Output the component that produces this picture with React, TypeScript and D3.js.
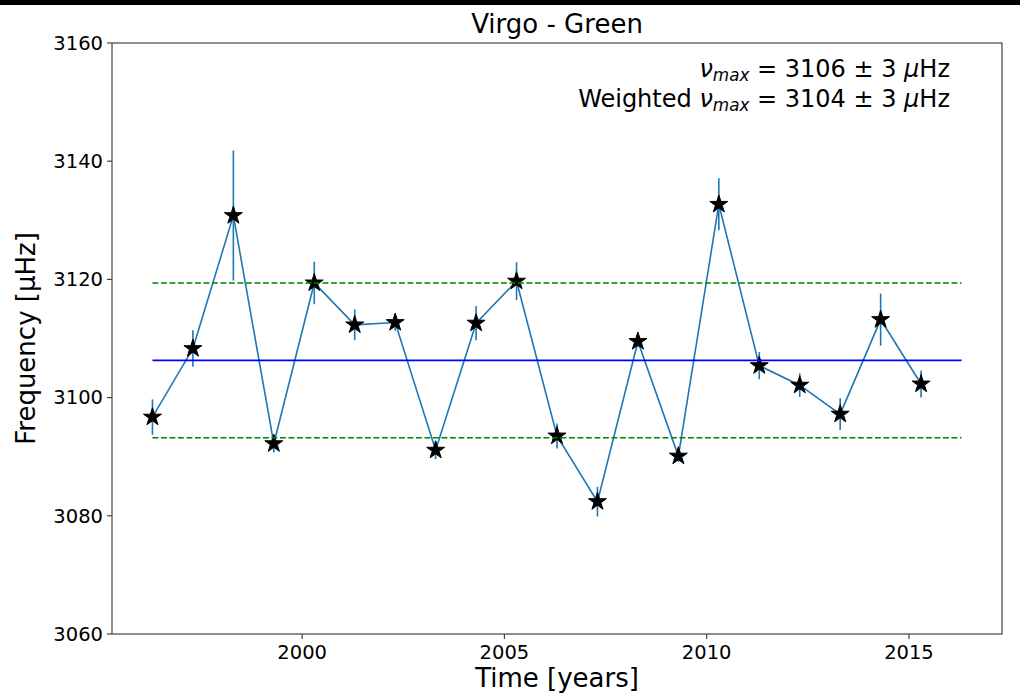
import React from "react";
import * as d3 from "d3";

const years = [1996.3, 1997.3, 1998.3, 1999.3, 2000.3, 2001.3, 2002.3, 2003.3, 2004.3, 2005.3, 2006.3, 2007.3, 2008.3, 2009.3, 2010.3, 2011.3, 2012.3, 2013.3, 2014.3, 2015.3];
const numax = [3096.7, 3108.3, 3130.8, 3092.2, 3119.4, 3112.3, 3112.7, 3091.1, 3112.6, 3119.7, 3093.5, 3082.4, 3109.5, 3090.1, 3132.7, 3105.4, 3102.1, 3097.2, 3113.2, 3102.3];
const numaxErr = [3.0, 3.1, 11.0, 1.5, 3.6, 2.6, 1.4, 1.5, 2.9, 3.2, 2.1, 2.5, 1.0, 1.0, 4.4, 2.3, 2.0, 2.7, 4.4, 2.3];
const meanValue = 3106.3;
const stdValue = 13.1;
const lineStart = 1996.3;
const lineEnd = 2016.3;
const xDomain = [1995.3, 2017.3];
const yDomain = [3060, 3160];
const xTicks = [2000, 2005, 2010, 2015];
const yTicks = [3060, 3080, 3100, 3120, 3140, 3160];

const W = 1020, H = 698;
const L = 112, R = 1002, T = 43, B = 634;
const FONT = "'DejaVu Sans', sans-serif";

export default function App() {
  const x = d3.scaleLinear().domain(xDomain).range([L, R]);
  const y = d3.scaleLinear().domain(yDomain).range([B, T]);
  const line = d3.line<number>().x((_, i) => x(years[i])).y((d) => y(d));
  const star = d3.symbol().type(d3.symbolStar).size(100)();
  const blue = "#1f77b4";

  return (
    <svg width={W} height={H} style={{ position: "absolute", left: 0, top: 0, background: "#fff" }} fontFamily={FONT}>
      <rect x={0} y={0} width={W} height={H} fill="#fff" />
      <rect x={0} y={0} width={W} height={5} fill="#000" />
      {/* error bars */}
      {numax.map((v, i) => (
        <line key={"e" + i} x1={x(years[i])} x2={x(years[i])} y1={y(v - numaxErr[i])} y2={y(v + numaxErr[i])} stroke={blue} strokeWidth={1.6} />
      ))}
      <path d={line(numax) || ""} fill="none" stroke={blue} strokeWidth={1.6} />
      {numax.map((v, i) => (
        <path key={"s" + i} d={star || ""} transform={`translate(${x(years[i])},${y(v)})`} fill="#000" stroke="#000" strokeWidth={1} />
      ))}
      {/* mean & std lines */}
      <line x1={x(lineStart)} x2={x(lineEnd)} y1={y(meanValue)} y2={y(meanValue)} stroke="#0000ff" strokeWidth={1.6} />
      <line x1={x(lineStart)} x2={x(lineEnd)} y1={y(meanValue + stdValue)} y2={y(meanValue + stdValue)} stroke="#008000" strokeWidth={1.6} strokeDasharray="5.9,2.6" />
      <line x1={x(lineStart)} x2={x(lineEnd)} y1={y(meanValue - stdValue)} y2={y(meanValue - stdValue)} stroke="#008000" strokeWidth={1.6} strokeDasharray="5.9,2.6" />
      {/* frame */}
      <rect x={L} y={T} width={R - L} height={B - T} fill="none" stroke="#444" strokeWidth={1.2} />
      {/* y ticks */}
      {yTicks.map((t) => (
        <g key={"y" + t}>
          <line x1={L - 5} x2={L} y1={y(t)} y2={y(t)} stroke="#444" strokeWidth={1.2} />
          <text x={L - 9} y={y(t)} dy="0.35em" textAnchor="end" fontSize={19.5} fill="#000">{t}</text>
        </g>
      ))}
      {/* x ticks */}
      {xTicks.map((t) => (
        <g key={"x" + t}>
          <line x1={x(t)} x2={x(t)} y1={B} y2={B + 5} stroke="#444" strokeWidth={1.2} />
          <text x={x(t)} y={B + 25} textAnchor="middle" fontSize={19.5} fill="#000">{t}</text>
        </g>
      ))}
      <text x={(L + R) / 2} y={33} textAnchor="middle" fontSize={26} fill="#000">Virgo - Green</text>
      <text x={(L + R) / 2} y={687} textAnchor="middle" fontSize={26} fill="#000">Time [years]</text>
      <text transform={`translate(35,${(T + B) / 2}) rotate(-90)`} textAnchor="middle" fontSize={26} fill="#000">Frequency [μHz]</text>
      <text x={950} y={77} textAnchor="end" fontSize={24} fill="#000">
        <tspan fontStyle="italic">ν</tspan>
        <tspan fontStyle="italic" fontSize={16.8} dy={4}>max</tspan>
        <tspan dy={-4}> = 3106 ± 3 </tspan>
        <tspan fontStyle="italic">μ</tspan>
        <tspan>Hz</tspan>
      </text>
      <text x={950} y={107} textAnchor="end" fontSize={24} fill="#000">
        <tspan>Weighted </tspan>
        <tspan fontStyle="italic">ν</tspan>
        <tspan fontStyle="italic" fontSize={16.8} dy={4}>max</tspan>
        <tspan dy={-4}> = 3104 ± 3 </tspan>
        <tspan fontStyle="italic">μ</tspan>
        <tspan>Hz</tspan>
      </text>
    </svg>
  );
}
